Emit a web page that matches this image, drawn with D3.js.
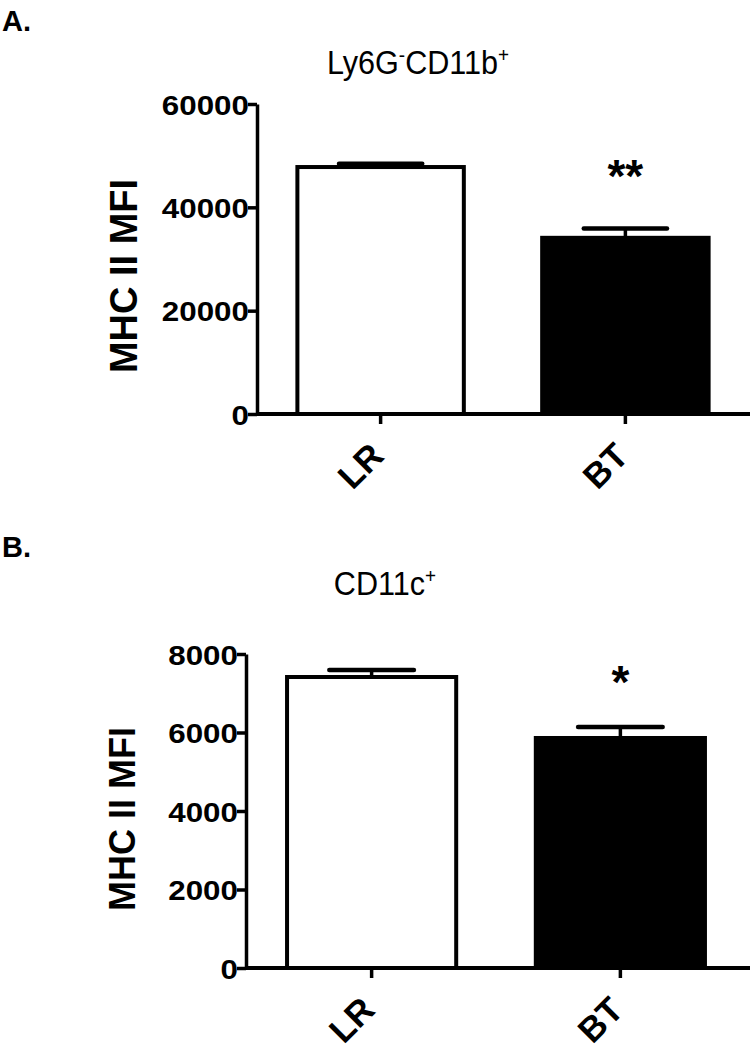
<!DOCTYPE html>
<html>
<head>
<meta charset="utf-8">
<script src="https://cdn.jsdelivr.net/npm/d3@7"></script>
<style>
  html, body { margin: 0; padding: 0; background: #fff; }
  svg { display: block; }
</style>
</head>
<body>
<svg id="chart" width="751" height="1050"></svg>
<script>
// ---- data ----
const categories = ["LR", "BT"];
const panelLetters = ["A.", "B."];
const titlesMain = ["Ly6G", "CD11c"];
const yLabel = "MHC II MFI";

const valuesA = [47800, 34100];
const errorsA = [650, 1800];
const ticksA = [0, 20000, 40000, 60000];
const signifA = ["", "**"];

const valuesB = [7414, 5860];
const errorsB = [180, 280];
const ticksB = [0, 2000, 4000, 6000, 8000];
const signifB = ["", "*"];

const fills = ["#ffffff", "#000000"];

const svg = d3.select("#chart");
const FONT = "Liberation Sans, Arial, sans-serif";

function panel(cfg) {
  const g = svg.append("g");
  const y = d3.scaleLinear().domain([0, cfg.ymax]).range([cfg.yBottom, cfg.yTop]);
  const x = d3.scaleBand().domain(categories).range([cfg.axisX, cfg.xEnd])
    .paddingInner(0.32).paddingOuter(0.165);

  // bars
  g.selectAll("rect.bar").data(cfg.values).enter().append("rect")
    .attr("class", "bar")
    .attr("x", (d, i) => x(categories[i]))
    .attr("width", x.bandwidth())
    .attr("y", d => y(d))
    .attr("height", d => cfg.yBottom - y(d))
    .attr("fill", (d, i) => fills[i])
    .attr("stroke", "#000")
    .attr("stroke-width", 4);

  // error bars (upper)
  cfg.values.forEach((v, i) => {
    const cx = x(categories[i]) + x.bandwidth() / 2;
    g.append("line").attr("x1", cx).attr("x2", cx)
      .attr("y1", y(v)).attr("y2", y(v + cfg.errors[i]))
      .attr("stroke", "#000").attr("stroke-width", 3.5);
    g.append("line")
      .attr("x1", cx - x.bandwidth() / 4).attr("x2", cx + x.bandwidth() / 4)
      .attr("y1", y(v + cfg.errors[i])).attr("y2", y(v + cfg.errors[i]))
      .attr("stroke", "#000").attr("stroke-width", 4.5).attr("stroke-linecap", "round");
    if (cfg.signif[i]) {
      g.append("text").attr("x", cx).attr("y", cfg.signifY)
        .attr("text-anchor", "middle")
        .attr("font-family", FONT)
        .attr("font-weight", "bold").attr("font-size", 46)
        .text(cfg.signif[i]);
    }
  });

  // y axis
  const ya = g.append("g").attr("transform", `translate(${cfg.axisX},0)`)
    .call(d3.axisLeft(y).tickValues(cfg.ticks).tickSize(9).tickSizeOuter(0).tickFormat(d3.format("d")));
  ya.select(".domain").attr("stroke-width", 3.5);
  ya.selectAll(".tick line").attr("stroke-width", 3.5);
  ya.selectAll(".tick text")
    .attr("font-family", FONT)
    .attr("font-weight", "bold").attr("font-size", 28)
    .attr("fill", "#000")
    .attr("x", -8 / 1.12).attr("dy", "0.36em")
    .attr("transform", "scale(1.12,1)");

  // x axis line
  g.append("line").attr("x1", cfg.axisX).attr("x2", 750)
    .attr("y1", cfg.yBottom).attr("y2", cfg.yBottom)
    .attr("stroke", "#000").attr("stroke-width", 4);
  // x ticks and labels
  const xa = g.append("g").attr("transform", `translate(0,${cfg.yBottom})`)
    .call(d3.axisBottom(x).tickSize(10).tickSizeOuter(0));
  xa.select(".domain").remove();
  xa.selectAll(".tick line").attr("stroke-width", 3.5);
  xa.selectAll(".tick text")
    .attr("font-family", FONT)
    .attr("font-weight", "bold").attr("font-size", 35)
    .attr("fill", "#000")
    .attr("text-anchor", "end")
    .attr("x", 0).attr("y", 0).attr("dy", 0)
    .attr("transform", "translate(5,44) rotate(-45)");

  // y label
  g.append("text")
    .attr("transform", `translate(${cfg.yLabelX},${cfg.yLabelY}) rotate(-90)`)
    .attr("text-anchor", "middle")
    .attr("font-family", FONT)
    .attr("font-weight", "bold").attr("font-size", cfg.yLabelSize)
    .text(yLabel);

  // panel letter
  g.append("text").attr("x", 2).attr("y", cfg.letterY)
    .attr("font-family", FONT)
    .attr("font-weight", "bold").attr("font-size", 29)
    .text(cfg.letter);

  // title
  const t = g.append("text")
    .attr("transform", `translate(${cfg.titleX},${cfg.titleY}) scale(0.9,1)`)
    .attr("text-anchor", "middle")
    .attr("font-family", FONT)
    .attr("font-size", 34);
  cfg.titleParts.forEach(p => {
    const ts = t.append("tspan").text(p.t);
    if (p.sup) ts.attr("baseline-shift", "super").attr("font-size", 21);
  });
}

panel({
  ymax: 60000, yTop: 104, yBottom: 414, axisX: 257, xEnd: 749,
  values: valuesA, errors: errorsA, ticks: ticksA, signif: signifA, signifY: 192,
  yLabelX: 137, yLabelY: 276, yLabelSize: 38,
  letter: panelLetters[0], letterY: 31,
  titleX: 418, titleY: 74,
  titleParts: [{t: titlesMain[0]}, {t: "-", sup: true}, {t: "CD11b"}, {t: "+", sup: true}]
});

panel({
  ymax: 8000, yTop: 654, yBottom: 968, axisX: 246, xEnd: 746,
  values: valuesB, errors: errorsB, ticks: ticksB, signif: signifB, signifY: 698,
  yLabelX: 135, yLabelY: 819, yLabelSize: 36,
  letter: panelLetters[1], letterY: 557,
  titleX: 385, titleY: 595,
  titleParts: [{t: titlesMain[1]}, {t: "+", sup: true}]
});
</script>
</body>
</html>
